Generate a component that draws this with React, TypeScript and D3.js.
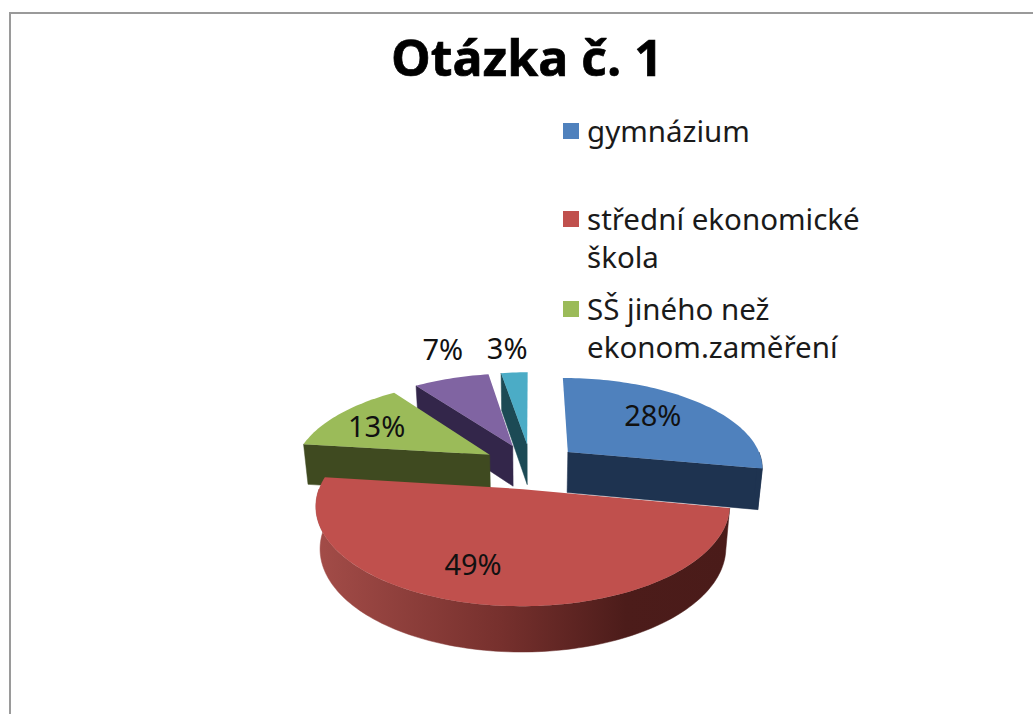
import * as d3 from 'd3';

const title = 'Otázka č. 1';
const values = [28, 49, 13, 7.4, 2.6];
const percentLabels = ['28%', '49%', '13%', '7%', '3%'];
const topColors = ['#4f81bd', '#c0504d', '#9bbb59', '#8064a2', '#4bacc6'];
const wallColors = ['#1e3350', 'url(#redWall)', '#3f4a20', '#33264a', '#1c4a55'];
const drawOrder = [4, 3, 2, 0, 1];

const legendColors = ['#4f81bd', '#c0504d', '#9bbb59'];
const legendLines = [['gymnázium'], ['střední ekonomické', 'škola'], ['SŠ jiného než', 'ekonom.zaměření']];
const legendBaselines = [142, 230, 320];

// label position relative to each slice's own apex, in pixels
const labelOffsets = [[85, -26], [-50, 86], [-113, -18], [-70, -86], [-20, -85]];

const width = 1033;
const height = 714;

// pie plane -> screen
const centerX = 531;
const centerY = 466;
const radiusX = 196;
const radiusY = 90;
const perspective = 0.16;
const explode = 0.25;
const depth = 41;

const project = (X: number, Y: number, bottom = false) => {
  const w = 1 - perspective * Y;
  if (!bottom) return [centerX + (X * radiusX) / w, centerY + (Y * radiusY) / w];
  return [
    centerX + (X * radiusX) / (w * 1.02),
    centerY + (Y * radiusY) / w + depth * Math.sqrt(1 / w),
  ];
};

const App = () => {
  const arcs = d3.pie<number>().sort(null).value(d => d)(values);
  const line = d3.line();

  const slices = arcs.map((d, i) => {
    const mid = (d.startAngle + d.endAngle) / 2;
    const apex = [explode * Math.sin(mid), -explode * Math.cos(mid)];
    const point = (a: number, bottom = false) =>
      project(apex[0] + Math.sin(a), apex[1] - Math.cos(a), bottom);
    const angles = (a0: number, a1: number) => {
      const n = Math.max(2, Math.ceil((a1 - a0) * 40));
      return d3.range(n + 1).map(k => a0 + ((a1 - a0) * k) / n);
    };

    const top = line([project(apex[0], apex[1]) as [number, number],
      ...angles(d.startAngle, d.endAngle).map(a => point(a) as [number, number])]) + 'Z';

    const walls: string[] = [];
    const radial = (a: number) =>
      line([project(apex[0], apex[1]), point(a), point(a, true), project(apex[0], apex[1], true)] as [number, number][]) + 'Z';
    if (d.startAngle > Math.PI) walls.push(radial(d.startAngle));
    if (d.endAngle < Math.PI) walls.push(radial(d.endAngle));

    // only the front part of the rim can be seen
    const rim0 = Math.max(d.startAngle, Math.PI / 2);
    const rim1 = Math.min(d.endAngle, (3 * Math.PI) / 2);
    if (rim1 > rim0) {
      const rim = angles(rim0, rim1);
      walls.push(line([
        ...rim.map(a => point(a) as [number, number]),
        ...rim.slice().reverse().map(a => point(a, true) as [number, number]),
      ]) + 'Z');
    }
    return { top, walls, apex: project(apex[0], apex[1]) };
  });

  return (
    <svg
      width={width}
      height={height}
      style={{ position: 'absolute', left: 0, top: 0, display: 'block', background: '#fff' }}
    >
      <defs>
        <linearGradient id="redWall" gradientUnits="userSpaceOnUse" x1={317} x2={729} y1={0} y2={0}>
          <stop offset="0" stopColor="#a34c48" />
          <stop offset="0.45" stopColor="#76302d" />
          <stop offset="0.75" stopColor="#4c1c1a" />
          <stop offset="1" stopColor="#4a1b19" />
        </linearGradient>
      </defs>

      <path d={`M${width},13H10V${height}`} fill="none" stroke="#9a9a9a" strokeWidth={2} />

      <text
        x={527}
        y={76}
        textAnchor="middle"
        fontFamily="'Open Sans', sans-serif"
        fontWeight={700}
        fontSize={50}
        fill="#000"
        stroke="#000"
        strokeWidth={0.7}
      >
        {title}
      </text>

      {drawOrder.map(i => (
        <g key={i}>
          {slices[i].walls.map((w, k) => (
            <path key={k} d={w} fill={wallColors[i]} stroke={wallColors[i]} strokeWidth={0.5} />
          ))}
          <path d={slices[i].top} fill={topColors[i]} />
        </g>
      ))}

      {percentLabels.map((t, i) => (
        <text
          key={t}
          x={slices[i].apex[0] + labelOffsets[i][0]}
          y={slices[i].apex[1] + labelOffsets[i][1]}
          textAnchor="middle"
          fontFamily="'Noto Sans', sans-serif"
          fontSize={29}
          fill="#111"
        >
          {t}
        </text>
      ))}

      {legendLines.map((lines, i) => (
        <g key={i}>
          <rect x={563} y={legendBaselines[i] - 19} width={16} height={16} fill={legendColors[i]} />
          {lines.map((l, k) => (
            <text
              key={l}
              x={587}
              y={legendBaselines[i] + k * 38}
              fontFamily="'Noto Sans', sans-serif"
              fontSize={29.5}
              fill="#1a1a1a"
            >
              {l}
            </text>
          ))}
        </g>
      ))}
    </svg>
  );
};

export default App;
